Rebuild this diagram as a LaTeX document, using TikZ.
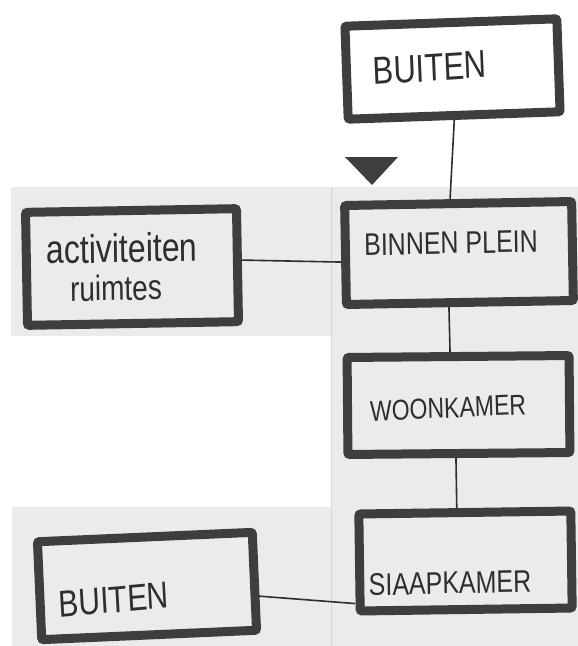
\documentclass[tikz,border=0pt]{standalone}
\usepackage{fontspec}
\setmainfont{Liberation Sans}
\definecolor{ink}{HTML}{3F3D3E}
\definecolor{pen}{HTML}{2F2D2E}
\definecolor{paper}{HTML}{EBEBEB}
\definecolor{seam}{HTML}{D6D6D6}
\tikzset{
  room/.style={draw=ink, line width=9pt, rounded corners=2pt, inner sep=0pt},
  label/.style={text=pen, inner sep=0pt, anchor=center, yscale=1.25},
  link/.style={draw=pen, line width=1.6pt}
}
\begin{document}
\begin{tikzpicture}[x=1pt, y=-1pt]
\useasboundingbox (0,0) rectangle (578,646);
% paper tiles
\fill[paper] (11,187) rectangle (331,336);
\fill[paper] (331,187) rectangle (578,646);
\fill[paper] (12,507) rectangle (331,646);
\draw[seam, line width=0.8pt] (331,187) -- (331,646);

% entrance marker
\fill[ink] (345,157) -- (398,157) -- (372,185) -- cycle;

% rooms
\node[room, minimum width=212pt, minimum height=93pt, rotate=2] (tb) at (452.5,69) {};
\node[room, minimum width=227pt, minimum height=99pt, rotate=1] (bp) at (459,253) {};
\node[room, minimum width=211pt, minimum height=113pt, rotate=1] (act) at (132,267) {};
\node[room, minimum width=222pt, minimum height=97pt, rotate=0.5] (wk) at (458.5,405) {};
\node[room, minimum width=212pt, minimum height=97pt, rotate=0.8] (sk) at (465.5,561) {};
\node[room, minimum width=215pt, minimum height=98pt, rotate=2.5] (bb) at (147,586) {};

% texts
\node[label, font=\fontsize{31}{31}\selectfont, rotate=3] (tbt) at (430,68) {BUITEN};
\node[label, font=\fontsize{25}{25}\selectfont, rotate=1] (bpt) at (451,243) {BINNEN PLEIN};
\node[label, font=\fontsize{32}{32}\selectfont, rotate=1] (actt1) at (122,248) {activiteiten};
\node[label, font=\fontsize{28}{28}\selectfont, rotate=1] (actt2) at (116,288) {ruimtes};
\node[label, font=\fontsize{23}{23}\selectfont, rotate=2] (wkt) at (448,408) {WOONKAMER};
\node[label, font=\fontsize{25}{25}\selectfont, rotate=1] (skt) at (450,583) {SIAAPKAMER};
\node[label, font=\fontsize{30}{30}\selectfont, rotate=4] (bbt) at (114,600) {BUITEN};

% connections
\draw[link] (tb.south) -- ([xshift=-8pt]bp.north);
\draw[link] ([xshift=-11pt]bp.south) -- ([xshift=-8pt]wk.north);
\draw[link] ([xshift=-3pt]wk.south) -- ([xshift=-8pt]sk.north);
\draw[link] ([yshift=5pt]act.east) -- ([yshift=-7pt]bp.west);
\draw[link] ([yshift=-15pt]bb.east) -- ([yshift=-41pt]sk.west);
\end{tikzpicture}
\end{document}
